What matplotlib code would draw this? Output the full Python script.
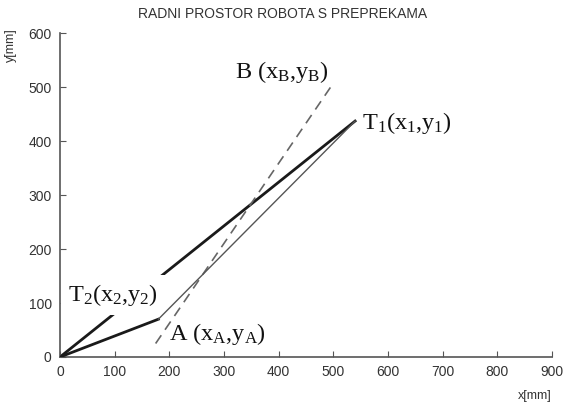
import matplotlib
matplotlib.use("Agg")
import matplotlib.pyplot as plt

# robot workspace points (mm)
origin = (0, 0)
point_a = (180, 70)
point_t1 = (540, 437)
dash_start = (175, 25)
point_b = (500, 507)

x_ticks = [0, 100, 200, 300, 400, 500, 600, 700, 800, 900]
y_ticks = [0, 100, 200, 300, 400, 500, 600]

# label text, x, y, white background (T2 label sits on the O-T1 line)
labels = [
    ("T$_1$(x$_1$,y$_1$)", 553, 434, False),
    ("T$_2$(x$_2$,y$_2$)", 15, 114, True),
    ("A (x$_\\mathrm{A}$,y$_\\mathrm{A}$)", 200, 42, False),
    ("B (x$_\\mathrm{B}$,y$_\\mathrm{B}$)", 320, 528, False),
]

plt.rcParams["mathtext.fontset"] = "custom"
plt.rcParams["mathtext.rm"] = "Liberation Serif"
plt.rcParams["mathtext.it"] = "Liberation Serif:italic"
plt.rcParams["font.family"] = ["Liberation Sans", "DejaVu Sans"]

fig = plt.figure(figsize=(5.66, 4.08), dpi=100)
ax = fig.add_axes([0.106, 0.125, 0.869, 0.794])

# thick O-T1 (partly hidden behind the T2 label)
ax.plot([origin[0], point_t1[0]], [origin[1], point_t1[1]], color="#1a1a1a", lw=2.0,
        zorder=1)
# dashed line A-B
ax.plot([dash_start[0], point_b[0]], [dash_start[1], point_b[1]],
        color="#666666", lw=1.2, ls=(0, (6, 4)), zorder=3)
# thick O-A
ax.plot([origin[0], point_a[0]], [origin[1], point_a[1]], color="#1a1a1a", lw=2.0,
        zorder=3)
# thin A-T1
ax.plot([point_a[0], point_t1[0]], [point_a[1], point_t1[1]], color="#555555", lw=1.0,
        zorder=3)

for txt, x, y, bg in labels:
    t = ax.text(x, y, txt, fontsize=17.5, family="Liberation Serif", color="#111111",
                va="center", ha="left", zorder=2)
    if bg:
        t.set_bbox(dict(facecolor="white", edgecolor="none", pad=5))

ax.set_xlim(0, 900)
ax.set_ylim(0, 600)
ax.set_xticks(x_ticks)
ax.set_yticks(y_ticks)
ax.spines["top"].set_visible(False)
ax.spines["right"].set_visible(False)
for s in ["left", "bottom"]:
    ax.spines[s].set_color("#555555")
    ax.spines[s].set_linewidth(1.2)
ax.tick_params(direction="in", length=4, colors="#555555", labelcolor="#333333",
               labelsize=10, pad=6)

fig.text(0.5, 0.965, "RADNI PROSTOR ROBOTA S PREPREKAMA", ha="center", va="center",
         fontsize=10, color="#333333")
fig.text(0.975, 0.03, "x[mm]", ha="right", va="center", fontsize=9, color="#333333")
fig.text(0.02, 0.89, "y[mm]", ha="center", va="center", rotation=90, fontsize=9,
         color="#333333")

fig.savefig("out.png", dpi=100)
